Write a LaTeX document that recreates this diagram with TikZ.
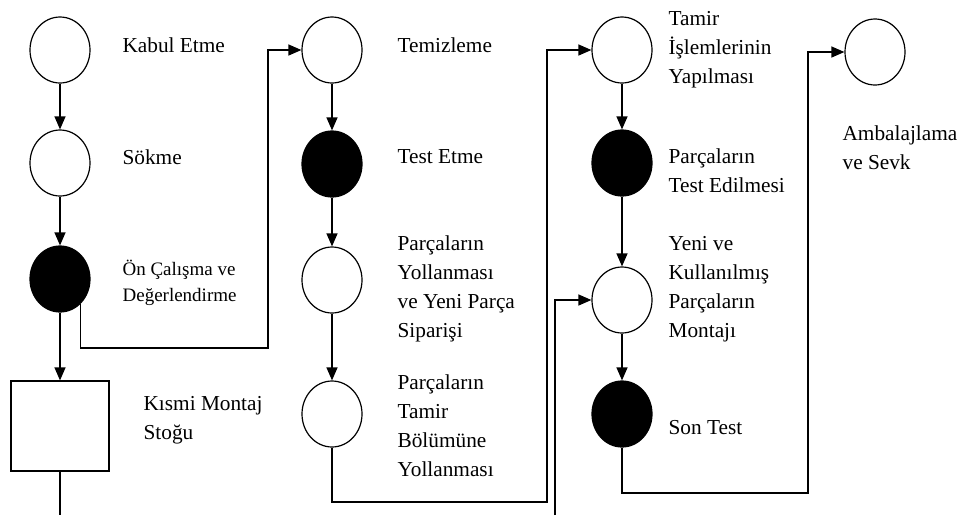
\documentclass[tikz,border=0pt]{standalone}
\usepackage{fontspec}
\setmainfont{Liberation Serif}
\usetikzlibrary{shapes.geometric,arrows.meta}
\begin{document}
\begin{tikzpicture}[x=1pt,y=-1pt,line width=1.2pt,
  oval/.style={ellipse, draw, minimum width=60pt, minimum height=66pt, inner sep=0pt},
  wo/.style={oval, fill=white},
  bo/.style={oval, fill=black},
  lbl/.style={anchor=west, align=left, font=\fontsize{21.3}{29}\selectfont, inner sep=0pt},
  slbl/.style={anchor=west, align=left, font=\fontsize{19}{26}\selectfont, inner sep=0pt},
  arr/.style={-{Triangle[length=13pt,width=11pt]}}]
\useasboundingbox (0,0) rectangle (964,515);
% column 1
\node[wo] (a1) at (60,50) {};
\node[wo] (a2) at (60,163) {};
\node[bo] (a3) at (60,279) {};
\node[draw, minimum width=98pt, minimum height=90pt, inner sep=0pt] (box) at (60,426) {};
% column 2
\node[wo] (b1) at (332,50) {};
\node[bo] (b2) at (332,164) {};
\node[wo] (b3) at (332,280) {};
\node[wo] (b4) at (332,414) {};
% column 3
\node[wo] (c1) at (622,50) {};
\node[bo] (c2) at (622,163) {};
\node[wo] (c3) at (622,300) {};
\node[bo] (c4) at (622,414) {};
% column 4
\node[wo] (d1) at (875,52) {};
% labels
\node[lbl] (ta1) at (122,45) {Kabul Etme};
\node[lbl] (ta2) at (122,157) {Sökme};
\node[slbl] (ta3) at (122,283) {Ön Çalışma ve\\Değerlendirme};
\node[lbl] (tbox) at (143,420) {Kısmi Montaj\\Stoğu};
\node[lbl] (tb1) at (397,45) {Temizleme};
\node[lbl] (tb2) at (397,157) {Test Etme};
\node[lbl] (tb3) at (397,289) {Parçaların\\Yollanması\\ve Yeni Parça\\Siparişi};
\node[lbl] (tb4) at (397,426) {Parçaların\\Tamir\\Bölümüne\\Yollanması};
\node[lbl] (tc1) at (668,50) {Tamir\\İşlemlerinin\\Yapılması};
\node[lbl] (tc2) at (668,171) {Parçaların\\Test Edilmesi};
\node[lbl] (tc3) at (668,289) {Yeni ve\\Kullanılmış\\Parçaların\\Montajı};
\node[lbl] (tc4) at (668,428) {Son Test};
\node[lbl] (td1) at (842,148) {Ambalajlama\\ve Sevk};
% bend points
\coordinate (k1) at (268,348);
\coordinate (k2) at (547,502);
\coordinate (k3) at (555,515);
\coordinate (k4) at (60,515);
\coordinate (k5) at (808,493);
% vertical arrows
\draw[arr] (a1) -- (a2);
\draw[arr] (a2) -- (a3);
\draw[arr] (a3) -- (box);
\draw (box.south) -- (k4);
\draw[arr] (b1) -- (b2);
\draw[arr] (b2) -- (b3);
\draw[arr] (b3) -- (b4);
\draw[arr] (c1) -- (c2);
\draw[arr] (c2) -- (c3);
\draw[arr] (c3) -- (c4);
% routed connectors
\draw[arr] (a3.-51) |- (k1) |- (b1.west);
\draw[arr] (b4.south) |- (k2) |- (c1.west);
\draw[arr] (k3) |- (c3.west);
\draw[arr] (c4.south) |- (k5) |- (d1.west);
\end{tikzpicture}
\end{document}
